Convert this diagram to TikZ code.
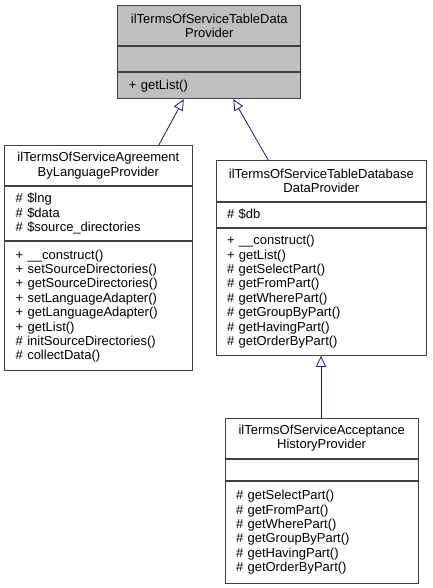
\documentclass[tikz,border=0pt]{standalone}
\usepackage{fontspec}
\setmainfont{Liberation Sans}
\usetikzlibrary{positioning,arrows.meta}
\definecolor{headgray}{HTML}{BFBFBF}
\definecolor{edgeblue}{HTML}{191970}
\definecolor{boxline}{HTML}{404040}

\begin{document}
\begin{tikzpicture}[x=1pt,y=-1pt,
    part/.style={draw=boxline, line width=1pt, inner xsep=11pt, inner ysep=0pt, font=\fontsize{13}{14.4}\selectfont},
    classname/.style={part, align=center},
    members/.style={part, align=left},
    inherit/.style={draw=edgeblue, line width=0.8pt, -{Triangle[open, length=11pt, width=10pt]}}]
        \useasboundingbox (0,0) rectangle (432,588);
        % base class
        \node[classname, fill=headgray, text width=160.7pt, minimum height=40pt] (dataTitle) at (209.3,25.7) {ilTermsOfServiceTableData\\Provider};
        \node[members, fill=headgray, text width=160.7pt, minimum height=25.3pt, below=0pt of dataTitle] (dataAttr) {};
        \node[members, fill=headgray, text width=160.7pt, minimum height=25.7pt, below=0pt of dataAttr] (dataMethods) {+ getList()};
        % agreement provider
        \node[classname, text width=165.3pt, minimum height=40pt] (agreeTitle) at (98.35,165.7) {ilTermsOfServiceAgreement\\ByLanguageProvider};
        \node[members, text width=165.3pt, minimum height=54pt, below=0pt of agreeTitle] (agreeAttr) {\# \$lng\\\# \$data\\\# \$source\_directories};
        \node[members, text width=165.3pt, minimum height=129pt, below=0pt of agreeAttr] (agreeMethods) {+ \_\_construct()\\+ setSourceDirectories()\\+ getSourceDirectories()\\+ setLanguageAdapter()\\+ getLanguageAdapter()\\+ getList()\\\# initSourceDirectories()\\\# collectData()};
        % database provider
        \node[classname, text width=188.7pt, minimum height=40.3pt] (dbTitle) at (321.35,180.85) {ilTermsOfServiceTableDatabase\\DataProvider};
        \node[members, text width=188.7pt, minimum height=25pt, below=0pt of dbTitle] (dbAttr) {\# \$db};
        \node[members, text width=188.7pt, minimum height=127.3pt, below=0pt of dbAttr] (dbMethods) {+ \_\_construct()\\+ getList()\\\# getSelectPart()\\\# getFromPart()\\\# getWherePart()\\\# getGroupByPart()\\\# getHavingPart()\\\# getOrderByPart()};
        % history provider
        \node[classname, text width=171.3pt, minimum height=40pt] (historyTitle) at (321.65,438.3) {ilTermsOfServiceAcceptance\\HistoryProvider};
        \node[members, text width=171.3pt, minimum height=20.7pt, below=0pt of historyTitle] (historyAttr) {};
        \node[members, text width=171.3pt, minimum height=102.7pt, below=0pt of historyAttr] (historyMethods) {\# getSelectPart()\\\# getFromPart()\\\# getWherePart()\\\# getGroupByPart()\\\# getHavingPart()\\\# getOrderByPart()};
        % inheritance
        \draw[inherit] (agreeTitle.north -| 158.7,0) -- (dataMethods.south -| 183.7,0);
        \draw[inherit] (dbTitle.north -| 268.3,0) -- (dataMethods.south -| 233.3,0);
        \draw[inherit] (historyTitle.north -| 321,0) -- (dbMethods.south -| 321,0);
    \end{tikzpicture}
\end{document}
